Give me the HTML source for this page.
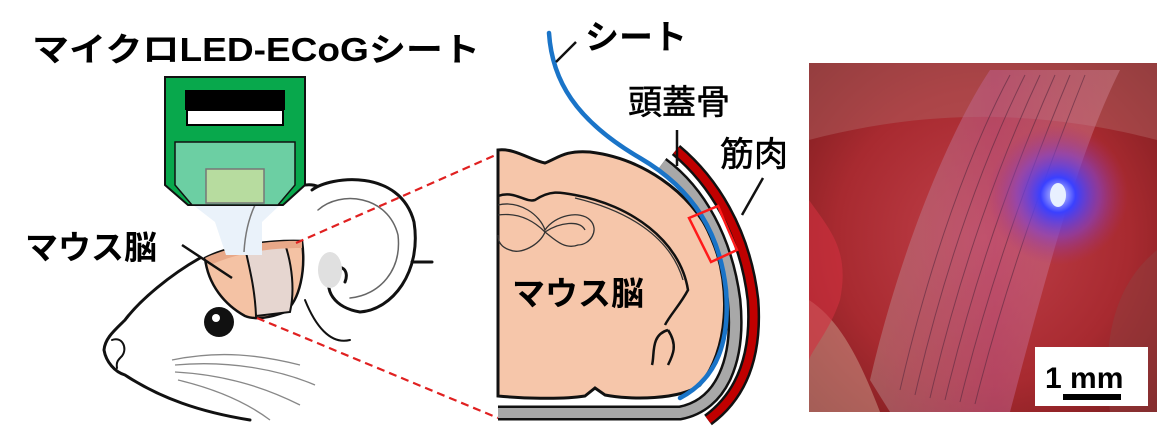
<!DOCTYPE html>
<html><head><meta charset="utf-8"><style>
html,body{margin:0;padding:0;background:#fff;}
svg{display:block;}
text{font-family:"Liberation Sans","Noto Sans CJK JP",sans-serif;}
</style></head><body>
<svg width="1158" height="427" viewBox="0 0 1158 427" xmlns="http://www.w3.org/2000/svg">
<defs>
<radialGradient id="bg" cx="0.5" cy="0.5" r="0.7">
<stop offset="0" stop-color="#c0404a"/><stop offset="0.6" stop-color="#a82a30"/><stop offset="1" stop-color="#7a1c1e"/>
</radialGradient>
<radialGradient id="blue" cx="0.5" cy="0.5" r="0.5">
<stop offset="0" stop-color="#d8e0ff"/><stop offset="0.25" stop-color="#3a40ff"/><stop offset="0.6" stop-color="#8040d0" stop-opacity="0.6"/><stop offset="1" stop-color="#a03080" stop-opacity="0"/>
</radialGradient>
<linearGradient id="sheet" x1="0" y1="0" x2="1" y2="0">
<stop offset="0" stop-color="#b88a8a" stop-opacity="0.5"/><stop offset="0.5" stop-color="#c06090" stop-opacity="0.5"/><stop offset="1" stop-color="#d890a0" stop-opacity="0.4"/>
</linearGradient>
</defs>

<text x="32" y="61" font-size="33" font-weight="bold" textLength="448" lengthAdjust="spacingAndGlyphs">マイクロLED-ECoGシート</text>

<!-- mouse head -->
<g fill="none" stroke="#111" stroke-width="3" stroke-linejoin="round" stroke-linecap="round">
<path d="M300,186 C315,182 325,188 330,198"/>
<path d="M312,190 C330,176 400,168 414,222 C422,272 392,310 360,312 C335,308 322,290 332,272 C340,262 350,270 345,282" fill="#fff"/>
<path d="M318,210 C340,190 388,195 398,235 C402,270 380,295 350,298" stroke-width="1.5" stroke="#666"/>
<path d="M412,262 L432,262"/>
<path d="M200,258 C170,275 140,300 125,320 C115,330 105,338 104,350 C106,362 115,372 125,375 C160,398 200,412 250,420"/>
<path d="M112,340 C122,336 128,348 122,356 C118,360 116,362 117,368" stroke-width="2"/>
<path d="M305,300 C315,325 330,345 350,340" stroke-width="2"/>
</g>
<ellipse cx="330" cy="270" rx="12" ry="18" fill="#e0e0e0"/>
<g fill="none" stroke="#888" stroke-width="1.3">
<path d="M175,365 C230,360 280,370 315,385"/>
<path d="M175,372 C230,375 270,390 300,405"/>
<path d="M178,380 C220,390 250,405 270,420"/>
<path d="M172,360 C220,350 260,355 300,365"/>
</g>
<circle cx="219" cy="322" r="15" fill="#111"/>
<circle cx="216" cy="318" r="4" fill="#fff"/>
<path d="M205,258 C230,245 270,240 302,241 C306,270 300,300 285,312 C270,318 255,320 245,316 C225,305 208,285 205,258 Z" fill="#f4c2a4" stroke="#111" stroke-width="2.5"/>
<path d="M245,248 C250,270 255,290 256,316 L290,312 C295,290 292,265 285,244 Z" fill="#e6d6d0" stroke="#111" stroke-width="2"/>
<path d="M205,258 C230,246 270,240 302,241 L302,248 C270,248 240,252 210,265 Z" fill="#e8a888"/>

<line x1="296" y1="243" x2="498" y2="154" stroke="#e02020" stroke-width="2.2" stroke-dasharray="8,5"/>
<line x1="257" y1="318" x2="498" y2="418" stroke="#e02020" stroke-width="2.2" stroke-dasharray="8,5"/>

<path d="M193,205 L280,205 L262,222 L262,255 L226,255 L215,222 Z" fill="#eaf2fa"/>
<path d="M255,205 C248,220 245,235 244,252" stroke="#777" stroke-width="1.5" fill="none"/>
<path d="M165,77 L305,77 L305,185 L283,205 L188,205 L165,185 Z" fill="#08a84c" stroke="#111" stroke-width="2"/>
<rect x="185" y="90" width="100" height="20" fill="#000"/>
<rect x="187" y="110" width="96" height="15" fill="#fff" stroke="#000" stroke-width="2"/>
<path d="M175,142 L295,142 L295,185 L278,205 L192,205 L175,185 Z" fill="#6ccfa3" stroke="#111" stroke-width="1.5"/>
<rect x="206" y="169" width="58" height="34" fill="#b7dc9f" stroke="#777" stroke-width="1.5"/>

<text x="25" y="259" font-size="33" font-weight="bold">マウス脳</text>
<line x1="182" y1="245" x2="232" y2="278" stroke="#111" stroke-width="2.5"/>

<!-- cross section -->
<path d="M498,150 C515,148 530,160 545,163 C558,158 565,150 590,152 C640,158 690,190 712,238 C732,290 728,350 700,385 C680,400 630,400 605,395 L595,388 L585,396 C560,400 520,398 498,396 Z" fill="#f6c6aa" stroke="#111" stroke-width="3"/>
<g fill="none" stroke="#111" stroke-width="2.5">
<path d="M498,196 C515,190 525,203 535,200 C550,190 560,192 575,195 C630,205 680,240 688,290 C680,305 670,315 665,325"/>
<path d="M668,330 C650,335 655,355 652,365 M668,330 C678,345 673,355 668,365"/>
</g>
<g fill="none" stroke="#333" stroke-width="1.3">
<path d="M498,205 C520,200 540,215 545,230 C555,215 580,210 590,220 C600,230 590,245 578,245 C565,250 555,240 545,232 C540,245 520,255 510,250 C500,247 498,240 498,235"/>
<path d="M498,215 C520,212 535,222 545,232 C560,222 580,220 585,230"/>
<path d="M575,198 C625,210 670,235 683,280"/>
</g>
<text x="512" y="305" font-size="33" font-weight="bold">マウス脳</text>

<path d="M676,150 C712,180 745,230 753,300 C757,355 742,395 708,420" fill="none" stroke="#111" stroke-width="13"/>
<path d="M676,150 C712,180 745,230 753,300 C757,355 742,395 708,420" fill="none" stroke="#c00000" stroke-width="8"/>
<path d="M662,164 C700,192 726,240 734,300 C740,360 722,405 680,413 L498,413" fill="none" stroke="#111" stroke-width="15"/>
<path d="M662,164 C700,192 726,240 734,300 C740,360 722,405 680,413 L498,413" fill="none" stroke="#a8a8a8" stroke-width="10"/>
<path d="M549,33 C552,80 575,120 640,158 C695,190 720,235 726,290 C730,340 718,378 680,398" fill="none" stroke="#1a74c8" stroke-width="4.5" stroke-linecap="round"/>
<polygon points="689,218 718,206 737,250 711,262" fill="none" stroke="#ff1a1a" stroke-width="2.5"/>

<text x="585" y="49" font-size="34" font-weight="bold">シート</text>
<line x1="556" y1="62" x2="576" y2="42" stroke="#111" stroke-width="2.5"/>
<text x="628" y="114" font-size="34" stroke="#000" stroke-width="0.6">頭蓋骨</text>
<line x1="677" y1="130" x2="677" y2="166" stroke="#111" stroke-width="2.5"/>
<text x="720" y="166" font-size="34" stroke="#000" stroke-width="0.6">筋肉</text>
<line x1="763" y1="178" x2="742" y2="215" stroke="#111" stroke-width="2.5"/>

<!-- photo -->
<rect x="809" y="63" width="348" height="349" fill="url(#bg)"/>
<path d="M809,63 L1157,63 L1157,140 C1080,120 960,100 809,140 Z" fill="#b06060" opacity="0.5"/>
<path d="M809,300 C840,320 860,360 880,412 L809,412 Z" fill="#d0a090" opacity="0.5"/>
<path d="M1157,250 C1120,280 1100,330 1110,412 L1157,412 Z" fill="#904040" opacity="0.5"/>
<path d="M870,380 C900,250 950,130 990,70 L1120,70 C1080,150 1050,260 1010,412 L890,412 Z" fill="url(#sheet)"/>
<g stroke="#5a2a40" stroke-width="1" opacity="0.6" fill="none">
<path d="M900,390 C930,260 970,150 1010,75"/>
<path d="M915,395 C945,265 985,155 1025,75"/>
<path d="M930,398 C960,270 1000,160 1040,75"/>
<path d="M945,400 C975,275 1015,165 1055,75"/>
<path d="M960,402 C990,280 1030,170 1070,75"/>
<path d="M975,404 C1005,285 1045,175 1085,75"/>
</g>
<ellipse cx="1058" cy="195" rx="70" ry="70" fill="url(#blue)"/>
<ellipse cx="1058" cy="195" rx="8" ry="12" fill="#e8f0ff"/>
<path d="M809,200 C830,230 850,250 840,300 C830,330 812,350 809,360 Z" fill="#d03040" opacity="0.6"/>
<rect x="1035" y="347" width="113" height="59" fill="#fff"/>
<text x="1045" y="388" font-size="30" font-weight="bold">1 mm</text>
<rect x="1063" y="394" width="58" height="6" fill="#000"/>
</svg>
</body></html>
